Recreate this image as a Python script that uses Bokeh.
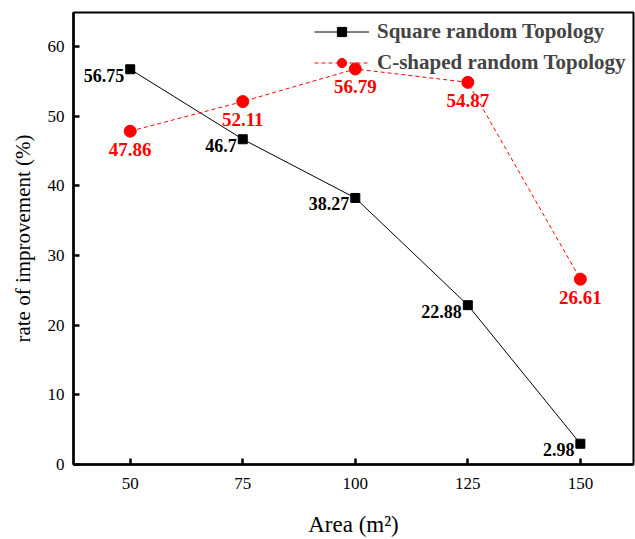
from bokeh.plotting import figure
from bokeh.models import ColumnDataSource, Range1d, FixedTicker, Legend, LegendItem
from bokeh.core.properties import value
from bokeh.embed import file_html
from bokeh.resources import INLINE

area = [50, 75, 100, 125, 150]
square_vals = [56.75, 46.7, 38.27, 22.88, 2.98]
cshape_vals = [47.86, 52.11, 56.79, 54.87, 26.61]
square_labels = ["56.75", "46.7", "38.27", "22.88", "2.98"]
cshape_labels = ["47.86", "52.11", "56.79", "54.87", "26.61"]
x_ticks = [50, 75, 100, 125, 150]
y_ticks = [0, 10, 20, 30, 40, 50, 60]

sq = ColumnDataSource(dict(x=area, y=square_vals, t=square_labels))
cs = ColumnDataSource(dict(x=area, y=cshape_vals, t=cshape_labels))

p = figure(width=635, height=539, output_backend="svg", toolbar_location=None,
           x_range=Range1d(37.4, 161.8), y_range=Range1d(0, 64.9),
           min_border_left=73, min_border_right=2, min_border_top=12, min_border_bottom=74)
p.background_fill_color = "white"
p.border_fill_color = "white"
p.grid.visible = False
p.outline_line_color = "black"
p.outline_line_width = 2

serif = "Liberation Serif"
for ax in (p.xaxis[0], p.yaxis[0]):
    ax.axis_line_width = 2.5
    ax.major_tick_line_width = 2.5
    ax.major_tick_in = 6
    ax.major_tick_out = 0
    ax.minor_tick_line_color = None
    ax.major_label_text_font = serif
    ax.major_label_text_font_size = "17px"
    ax.major_label_text_color = "black"
    ax.axis_label_text_font = serif
    ax.axis_label_text_font_size = "21px"
    ax.axis_label_text_font_style = "normal"
    ax.axis_label_text_color = "black"
p.xaxis.ticker = FixedTicker(ticks=x_ticks)
p.yaxis.ticker = FixedTicker(ticks=y_ticks)
p.xaxis.major_label_standoff = 13
p.yaxis.major_label_standoff = 9
p.xaxis.axis_label = "Area (m²)"
p.xaxis.axis_label_text_font_size = "23px"
p.yaxis.axis_label = "rate of improvement (%)"
p.xaxis.axis_label_standoff = 20
p.yaxis.axis_label_standoff = 10

l1 = p.line("x", "y", source=sq, line_color="black", line_width=1)
m1 = p.scatter("x", "y", source=sq, marker="square", size=9, fill_color="black", line_color="black")
l2 = p.line("x", "y", source=cs, line_color="red", line_width=1, line_dash="4 3")
m2 = p.scatter("x", "y", source=cs, marker="circle", size=12, fill_color="red", line_color="red")

p.text("x", "y", text="t", source=sq, text_font=value(serif), text_font_style="bold",
       text_font_size="18px", text_color="black", text_align="right", text_baseline="middle",
       x_offset=-6, y_offset=6)
p.text("x", "y", text="t", source=cs, text_font=value(serif), text_font_style="bold",
       text_font_size="19px", text_color="red", text_align="center", text_baseline="middle",
       x_offset=0, y_offset=18)

legend = Legend(items=[LegendItem(label="Square random Topology", renderers=[l1, m1]),
                       LegendItem(label="C-shaped random Topology", renderers=[l2, m2])],
                location=(241, 389))
legend.background_fill_alpha = 0
legend.border_line_color = None
legend.label_text_font = serif
legend.label_text_font_style = "bold"
legend.label_text_font_size = "21px"
legend.glyph_width = 55
legend.glyph_height = 23
legend.label_height = 23
legend.spacing = 6
legend.padding = 4
legend.label_standoff = 8
p.add_layout(legend, "center")

open("out.html", "w").write(file_html(p, INLINE))
